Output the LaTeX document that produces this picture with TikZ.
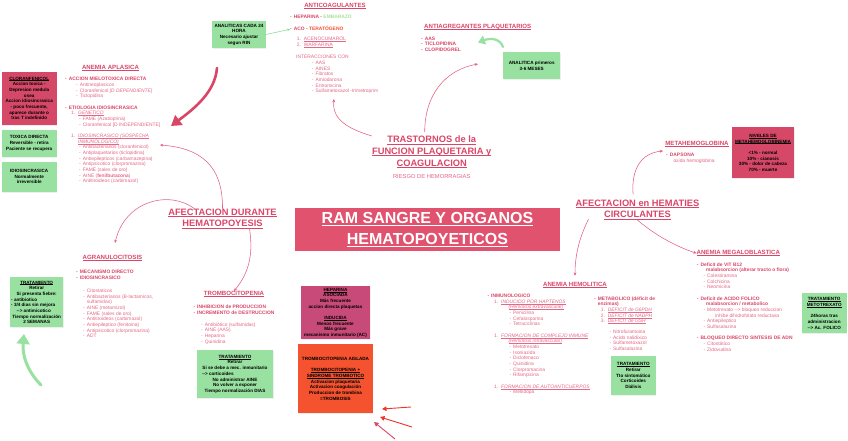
\documentclass[tikz,border=0pt]{standalone}
\usepackage{fontspec}
\setmainfont{Liberation Sans}
\usepackage{xcolor}
\usetikzlibrary{arrows.meta,positioning,shadows}

\definecolor{pinkhead}{RGB}{217,70,104}
\definecolor{pinktext}{RGB}{228,104,134}
\definecolor{pinkline}{RGB}{226,96,128}
\definecolor{mintbox}{RGB}{152,225,160}
\definecolor{mintline}{RGB}{130,215,140}
\definecolor{rosebox}{RGB}{214,72,104}
\definecolor{plumbox}{RGB}{200,74,120}
\definecolor{flamebox}{RGB}{245,82,48}
\definecolor{titlebox}{RGB}{224,82,110}
\definecolor{softgreen}{RGB}{165,226,150}
\definecolor{arrowred}{RGB}{240,50,40}

\newcommand\lfont{\fontsize{4.9}{5.67}\selectfont}
\newcommand\bxfont{\fontsize{4.6}{5.67}\selectfont\bfseries}
\newcommand\hdfont{\fontsize{6.1}{7}\selectfont\bfseries}
\newcommand\brfont{\fontsize{9.3}{11.6}\selectfont\bfseries}
\newcommand\itm[1]{\hspace*{#1}\makebox[3.7pt][l]{-}}
\newcommand\nmb[2]{\hspace*{#1}\makebox[7pt][l]{#2}}
\newcommand\darr{\mbox{-}\mbox{-}>}
\newsavebox\ulbox
\newcommand\uln[1]{\leavevmode\sbox\ulbox{#1}\rlap{\rule[-0.15em]{\wd\ulbox}{0.06em}}\usebox\ulbox}
\newcommand\topit[1]{{\bfseries\color{pinkhead}#1}}

\begin{document}
\begin{tikzpicture}[x=1pt,y=-1pt,
  hd/.style={font=\hdfont,text=pinkhead,inner sep=0pt,anchor=base},
  lst/.style={font=\lfont,text=pinktext,inner sep=0pt,anchor=north west,align=left},
  br/.style={font=\brfont,text=pinkhead,inner sep=0pt,anchor=north,align=center},
  card/.style={font=\bxfont,text=black,inner sep=1pt,align=center,drop shadow={opacity=0.12,shadow xshift=0.6pt,shadow yshift=-0.8pt}},
  arr/.style={-{Stealth[length=3.2pt,width=2.8pt]},line width=0.55pt,pinkline},
  fat/.style={-{Triangle[length=10pt,width=12pt]},line width=2.6pt,line cap=round},
  redarr/.style={-{Triangle[length=4.5pt,width=4.5pt]},line width=0.9pt}]
\useasboundingbox (0,0) rectangle (848,441);
\fill[white] (0,0) rectangle (848,441);

% centre
\node[fill=titlebox,minimum width=265pt,minimum height=42.5pt,inner sep=0pt,font=\fontsize{16}{21}\selectfont\bfseries,text=white,align=center] (ram) at (427.5,229.5) {\uln{RAM SANGRE Y ORGANOS}\\\uln{HEMATOPOYETICOS}};
\node[br] (trast) at (431.7,136) {\uln{TRASTORNOS de la}\\\uln{FUNCION PLAQUETARIA y}\\\uln{COAGULACION}};
\node[font=\fontsize{5.8}{7}\selectfont,text=pinktext,inner sep=0pt,anchor=base] (riesgo) at (431.7,178) {RIESGO DE HEMORRAGIAS};
\node[br] (afd) at (222.5,208.7) {\uln{AFECTACION DURANTE}\\\uln{HEMATOPOYESIS}};
\node[br] (afh) at (637.5,199.4) {\uln{AFECTACION en HEMATIES}\\\uln{CIRCULANTES}};

% coagulacion
\node[hd] (antic) at (335,7.5) {\uln{ANTICOAGULANTES}};
\node[lst] (anticl) at (290,14.9) {\topit{\itm{0pt}HEPARINA - \textcolor{softgreen}{EMBARAZO}}\\[5.9pt]
\topit{\itm{0pt}ACO - \textcolor{flamebox}{TERATÓGENO}}\\[5pt]
\nmb{6.7pt}{1.}\uln{ACENOCUMAROL}\\
\nmb{6.7pt}{2.}\uln{WARFARINA}\\[6.7pt]
\hspace*{6pt}INTERACCIONES CON\\
\itm{21.7pt}AAS\\
\itm{21.7pt}AINES\\
\itm{21.7pt}Fibratos\\
\itm{21.7pt}Amiodarona\\
\itm{21.7pt}Eritromicina\\
\itm{21.7pt}Sulfametoxazol -trimetroprim};
\node[card,fill=mintbox,minimum width=53.4pt,minimum height=27.6pt] (anal) at (239,34.5) {ANALITICAS CADA 24\\HORA\\Necesario ajustar\\segun RIN};
\node[hd] (antiag) at (477.7,28.2) {\uln{ANTIAGREGANTES PLAQUETARIOS}};
\node[lst,font=\lfont\bfseries,text=pinkhead] (antiagl) at (421,36.5) {\itm{0pt}AAS\\\itm{0pt}TICLOPIDINA\\\itm{0pt}CLOPIDOGREL};
\node[card,fill=mintbox,minimum width=56.7pt,minimum height=27pt] (anal3) at (531.7,65.8) {ANALITICA primeros\\3-6 MESES};

% hematopoyesis
\node[hd] (aplas) at (110.5,69.9) {\uln{ANEMIA APLASICA}};
\node[lst] (apll) at (65,77.2) {\topit{\itm{0pt}ACCION MIELOTOXICA DIRECTA}\\
\itm{11pt}Antineoplasicos\\
\itm{11pt}Cloranfenicol \textit{[D DEPENDIENTE]}\\
\itm{11pt}Ticlopidina\\[5.67pt]
\topit{\itm{0pt}ETIOLOGIA IDIOSINCRASICA}\\
\nmb{6pt}{1.}\uln{\textit{GENETICO}}\\
\itm{14pt}FAME (Azatioprina)\\
\itm{14pt}Cloranfenicol [D INDEPENDIENTE]\\[5.67pt]
\nmb{6pt}{1.}\uln{\textit{IDIOSINCRASICO (SOSPECHA}}\\
\hspace*{13pt}\uln{\textit{INMUNOLOGICO)}}\\
\itm{14pt}Antibacterianos (cloranfenicol)\\
\itm{14pt}Antiplaquetarios (ticlopidina)\\
\itm{14pt}Antiepilepticos (carbamazepina)\\
\itm{14pt}Antipsicotico (clorpromazina)\\
\itm{14pt}FAME (sales de oro)\\
\itm{14pt}AINE (\textbf{fenilbutazona})\\
\itm{14pt}Antitiroideos (carbimazol)};
\node[card,fill=rosebox,minimum width=55pt,minimum height=53pt] (clora) at (29.2,98.3) {\uln{CLORANFENICOL}\\Accion toxica -\\Depresion medula\\osea\\Accion idiosincrasica\\- poco frecuente,\\aparece durante o\\tras T indefinido};
\node[card,fill=mintbox,minimum width=55pt,minimum height=27pt] (toxd) at (29.2,143.3) {TOXICA DIRECTA\\Reversible - retira\\Paciente se recupera};
\node[card,fill=mintbox,minimum width=55pt,minimum height=30pt] (idio) at (29.2,176.7) {IDIOSINCRASICA\\Normalmente\\irreversible};

\node[hd] (agran) at (112.5,259.5) {\uln{AGRANULOCITOSIS}};
\node[lst] (agrl) at (76,269.9) {\topit{\itm{0pt}MECANISMO DIRECTO}\\
\topit{\itm{0pt}IDIOSINCRASICO}\\[7.7pt]
\itm{7pt}Citostaticos\\
\itm{7pt}Antibacterianos (B-lactamicos,\\
\hspace*{10.7pt}sulfamidas)\\
\itm{7pt}AINE (metamizol)\\
\itm{7pt}FAME (sales de oro)\\
\itm{7pt}Antitiroideos (carbimazol)\\
\itm{7pt}Antiepileptico (fenitoina)\\
\itm{7pt}Antipsicotico (clorpromazina)\\
\itm{7pt}ADT};
\node[card,fill=mintbox,minimum width=53.3pt,minimum height=50pt] (trata) at (36.7,302.3) {\uln{TRATAMIENTO}\\Retirar\\Si presenta fiebre:\\\makebox[51pt][l]{- antibiotico}\\\makebox[51pt][l]{- 3/4 dias sin mejora}\\\makebox[51pt][l]{\hspace*{5.5pt}\darr{} antimicotico}\\Tiempo normalización\\2 SEMANAS};

\node[hd] (tromb) at (234,295.5) {\uln{TROMBOCITOPENIA}};
\node[lst] (trl) at (193.3,305.2) {\topit{\itm{0pt}INHIBICION de PRODUCCION}\\
\topit{\itm{0pt}INCREMENTO de DESTRUCCION}\\[6pt]
\itm{7.7pt}Antibiótico (sulfamidas)\\
\itm{7.7pt}AINE (AAS)\\
\itm{7.7pt}Heparina\\
\itm{7.7pt}Quinidina};
\node[card,fill=mintbox,minimum width=76.6pt,minimum height=48pt] (tratb) at (235,374.2) {\uln{TRATAMIENTO}\\Retirar\\Si se debe a mec. inmunitario\\\makebox[66pt][l]{\darr{} corticoides}\\No administrar AINE\\No volver a exponer\\Tiempo normalización DIAS};
\node[card,fill=plumbox,minimum width=69pt,minimum height=53.3pt] (hepa) at (335.5,312.7) {\uln{HEPARINA}\\ASOCIADA\\Más frecuente\\accion directa plaquetas\\[5.67pt]\uln{INDUCIDA}\\Menos frecuente\\Más grave\\mecanismo inmunitario (AC)};
\node[card,fill=flamebox,minimum width=74.3pt,minimum height=69.3pt] (aisl) at (335.5,378.7) {TROMBOCITOPENIA AISLADA\\[5.67pt]\uln{TROMBOCITOPENIA +}\\\uln{SINDROME TROMBOTICO}\\Activacion plaquetaria\\Activacion coagulación\\Produccion de trombina\\=TROMBOSIS};

% hematies
\node[hd] (metah) at (697,145.5) {\uln{METAHEMOGLOBINA}};
\node[lst] (metahl) at (666,152.9) {\topit{\itm{0pt}DAPSONA}\\[0.6pt]\hspace*{7.3pt}oxida hemoglobina};
\node[card,fill=rosebox,minimum width=62.6pt,minimum height=51pt] (nivel) at (763,152.8) {\uln{NIVELES DE}\\\uln{METAHEMOGLOBINEMIA}\\[5.67pt]<1\% - normal\\10\% - cianosis\\30\% - dolor de cabeza\\70\% - muerte};

\node[hd] (hemol) at (575,286.2) {\uln{ANEMIA HEMOLITICA}};
\node[lst] (hml) at (487.3,293.9) {\topit{\itm{0pt}INMUNOLOGICO}\\
\nmb{6.7pt}{1.}\uln{\textit{INDUCIDO POR HAPTENOS}}\\
\hspace*{21pt}\uln{\textit{(Hemolisis extravascular)}}\\
\itm{22pt}Penicilina\\
\itm{22pt}Cefalosporina\\
\itm{22pt}Tetraciclinas\\[5.67pt]
\nmb{6.7pt}{1.}\uln{\textit{FORMACION DE COMPLEJO INMUNE}}\\
\hspace*{21pt}\uln{\textit{(Hemolisis intravascular)}}\\
\itm{22pt}Metotrexato\\
\itm{22pt}Isoniazida\\
\itm{22pt}Diclofenaco\\
\itm{22pt}Quinidina\\
\itm{22pt}Clorpromacina\\
\itm{22pt}Rifampicina\\[5.67pt]
\nmb{6.7pt}{1.}\uln{\textit{FORMACION DE AUTOANTICUERPOS}}\\
\itm{22pt}Metildopa};
\node[lst] (hmr) at (594,296.5) {\topit{\itm{0pt}METABOLICO (déficit de}\\
\topit{\hspace*{3.7pt}enzimas)}\\
\nmb{6.7pt}{1.}\uln{\textit{DEFICIT de G6PDH}}\\
\nmb{6.7pt}{2.}\uln{\textit{DEFICIT de NADPH}}\\
\nmb{6.7pt}{3.}\uln{\textit{DEFICIT de GSH}}\\[5pt]
\itm{15.3pt}Nitrofurantoina\\
\itm{15.3pt}Acido nalidixico\\
\itm{15.3pt}Sulfametoxazol\\
\itm{15.3pt}Sulfasalazina};
\node[card,fill=mintbox,minimum width=44.7pt,minimum height=39pt] (tratc) at (633.3,375.5) {\uln{TRATAMIENTO}\\Retirar\\Tto sintomático\\Corticoides\\Diálisis};

\node[hd] (megal) at (738.3,254.9) {\uln{ANEMIA MEGALOBLASTICA}};
\node[lst] (mgl) at (696.7,262.5) {\topit{\itm{0pt}Deficit de VIT B12}\\
\topit{\hspace*{9.3pt}malabsorcion (alterar tracto o flora)}\\
\itm{6.6pt}Colestiramina\\
\itm{6.6pt}Colchicina\\
\itm{6.6pt}Neomicina\\[5.67pt]
\topit{\itm{0pt}Deficit de ACIDO FOLICO}\\
\topit{\hspace*{9.3pt}malabsorcion / metabolico}\\
\itm{6.6pt}Metotrexato \darr{} bloqueo reduccion\\
\hspace*{18.3pt}inhibe dihidrofolato reductasa\\
\itm{6.6pt}Antiepileptico\\
\itm{6.6pt}Sulfasalazina\\[5.67pt]
\topit{\itm{0pt}BLOQUEO DIRECTO SINTESIS DE ADN}\\
\itm{6.6pt}Citostático\\
\itm{6.6pt}Zidovudina};
\node[card,fill=mintbox,minimum width=45pt,minimum height=40pt] (tratd) at (824.2,313.3) {\uln{TRATAMIENTO}\\\uln{METOTREXATO}\\[5.67pt]24horas tras\\administracion\\\darr{} Ac. FOLICO};

% connectors
\coordinate (agtip) at (478,64);
\coordinate (actip) at (334,99);
\coordinate (aptip) at (160,145);
\coordinate (grtip) at (115,243);
\coordinate (mhtip) at (663,151);
\coordinate (antip) at (290,29.3);
\draw[arr,shorten <=4pt] ([xshift=-7pt]trast.north) .. controls (424.7,95) and (445,70) .. (agtip);
\draw[arr] (trast.north west) .. controls (345,128) and (332,118) .. (actip);
\draw[arr] (afd.north) .. controls (223,165) and (200,148) .. (aptip);
\draw[arr] ([xshift=-28pt]afd.north) .. controls (170,190) and (125,200) .. (grtip);
\draw[arr] ([xshift=27pt]afd.south) .. controls (254,258) and (247,275) .. (tromb.north);
\draw[arr,shorten <=5pt] ([xshift=-4pt]afh.north) .. controls (631,168) and (642,153) .. (mhtip);
\draw[arr,shorten >=6pt] ([xshift=-49pt]afh.south) .. controls (578,240) and (575,258) .. (hemol.north);
\draw[arr] ([xshift=-1pt]afh.south) .. controls (655,235) and (675,246) .. (megal.west);
\draw[-{Stealth[length=3pt,width=2.6pt]},line width=0.5pt,mintline] (anal.east) -- (antip);

% hand drawn arrows
\coordinate (bpa) at (217,68);
\coordinate (bpb) at (171,126);
\draw[fat,pinkhead] (bpa) .. controls (215,92) and (195,108) .. (bpb);
\coordinate (gha) at (503,47);
\coordinate (ghb) at (478,42.5);
\draw[fat,mintbox,line width=2.2pt,-{Triangle[length=7pt,width=9pt]}] (gha) .. controls (500,38) and (490,38) .. (ghb);
\coordinate (gba) at (41,385);
\coordinate (gbb) at (24,334);
\draw[fat,mintbox,line width=3pt,-{Triangle[length=10pt,width=13pt]}] (gba) .. controls (28,372) and (22,356) .. (gbb);
\coordinate (ra1) at (411,407);
\coordinate (rb1) at (382,409);
\coordinate (ra2) at (412,427);
\coordinate (rb2) at (380,417);
\coordinate (ra3) at (395,439);
\coordinate (rb3) at (374,422);
\draw[redarr,arrowred] (ra1) -- (rb1);
\draw[redarr,arrowred] (ra2) -- (rb2);
\draw[redarr,pinkhead] (ra3) -- (rb3);
\end{tikzpicture}
\end{document}
